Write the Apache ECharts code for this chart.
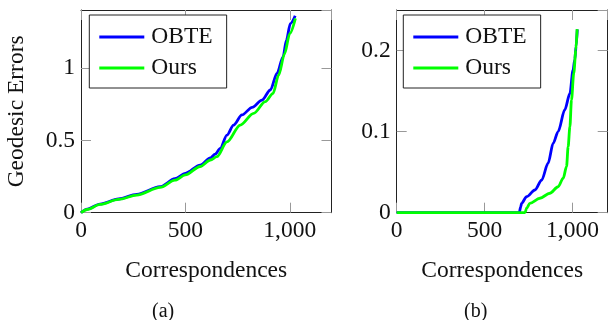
<!DOCTYPE html>
<html>
<head>
<meta charset="utf-8">
<script src="https://cdn.jsdelivr.net/npm/echarts@6/dist/echarts.min.js"></script>
<style>html,body{margin:0;padding:0;background:#fff;}#c{width:608px;height:320px;}</style>
</head>
<body>
<div id="c"></div>
<script>
// ---- data (a) ----
var obteAX = [0, 30, 91, 180, 267, 379, 450, 500, 571, 620, 643, 667, 699, 731, 771, 820, 867, 907, 939, 968, 984, 1003, 1026];
var obteAY = [0, 0.025, 0.06, 0.095, 0.127, 0.18, 0.235, 0.273, 0.33, 0.38, 0.406, 0.446, 0.538, 0.607, 0.677, 0.73, 0.78, 0.85, 0.965, 1.08, 1.196, 1.31, 1.364];
var oursAX = [0, 30, 91, 180, 267, 379, 450, 500, 571, 620, 651, 699, 763, 827, 883, 920, 947, 975, 1000, 1027];
var oursAY = [0, 0.022, 0.057, 0.092, 0.122, 0.175, 0.225, 0.262, 0.32, 0.365, 0.388, 0.49, 0.607, 0.688, 0.769, 0.827, 0.954, 1.10, 1.24, 1.346];
// ---- data (b) ----
var obteBX = [0, 697, 705, 710, 739, 786, 824, 861, 890, 918, 956, 985, 1003, 1013, 1020, 1027];
var obteBY = [0, 0, 0.007, 0.0116, 0.0198, 0.028, 0.040, 0.061, 0.0857, 0.100, 0.127, 0.147, 0.176, 0.189, 0.205, 0.226];
var oursBX = [0, 729, 740, 757, 814, 871, 918, 947, 966, 975, 985, 994, 1007, 1019, 1026];
var oursBY = [0, 0, 0.006, 0.0116, 0.0178, 0.024, 0.032, 0.0425, 0.057, 0.0815, 0.106, 0.139, 0.172, 0.2008, 0.2264];
// ---- axes / labels ----
var seriesNames = ['OBTE', 'Ours'];
var xTitle = 'Correspondences';
var yTitle = 'Geodesic Errors';
var captions = ['(a)', '(b)'];

function zip(xs, ys) { return xs.map(function (x, i) { return [x, ys[i]]; }); }

var FONT = '"Liberation Serif", "Times New Roman", serif';
var FS = 23.5;
var BLUE = '#0000ff', GREEN = '#00ff00';

function fmtX(v) { return v >= 1000 ? (v / 1000) + ',' + ('000' + (v % 1000)).slice(-3) : String(v); }

function xAx(grid, pos, max) {
  var main = pos === 'bottom';
  return {
    type: 'value', gridIndex: grid, position: pos, min: 0, max: max, interval: 500,
    axisLine: { show: true, onZero: false, lineStyle: { color: '#222', width: 1 } },
    axisTick: { show: true, inside: true, length: 10, lineStyle: { color: '#999', width: 1 } },
    axisLabel: { show: main, margin: 6, fontFamily: FONT, fontSize: FS, color: '#111', formatter: fmtX, showMaxLabel: false },
    splitLine: { show: false },
    name: main ? xTitle : '', nameLocation: 'middle', nameGap: 46,
    nameTextStyle: { fontFamily: FONT, fontSize: FS, color: '#111' }
  };
}
function yAx(grid, pos, max, interval, name) {
  var main = pos === 'left';
  return {
    type: 'value', gridIndex: grid, position: pos, min: 0, max: max, interval: interval,
    axisLine: { show: true, onZero: false, lineStyle: { color: '#222', width: 1 } },
    axisTick: { show: true, inside: true, length: 10, lineStyle: { color: '#999', width: 1 } },
    axisLabel: { show: main, margin: 6, fontFamily: FONT, fontSize: FS, color: '#111', showMaxLabel: false },
    splitLine: { show: false },
    name: main && name ? name : '', nameLocation: 'middle', nameGap: 52, nameRotate: 90,
    nameTextStyle: { fontFamily: FONT, fontSize: FS, color: '#111' }
  };
}
function legend(left) {
  return {
    data: seriesNames, orient: 'vertical', left: left, top: 15,
    backgroundColor: '#fff', borderColor: '#222', borderWidth: 1, borderRadius: 0,
    padding: [10, 14, 8, 10], itemGap: 7, itemWidth: 45, itemHeight: 3, icon: 'rect',
    textStyle: { fontFamily: FONT, fontSize: FS, color: '#111', lineHeight: 24, padding: [0, 0, 0, 2] },
    selectedMode: false
  };
}
function line(name, data, xi, yi, color) {
  return {
    type: 'line', name: name, data: data, xAxisIndex: xi, yAxisIndex: yi,
    showSymbol: false, symbol: 'none', smooth: 0.3, smoothMonotone: 'x',
    lineStyle: { color: color, width: 2.8 }, itemStyle: { color: color },
    animation: false, clip: false
  };
}

var chart = echarts.init(document.getElementById('c'), null, { renderer: 'canvas' });
chart.setOption({
  backgroundColor: '#fff',
  animation: false,
  textStyle: { fontFamily: FONT },
  grid: [
    { left: 81, top: 10, width: 250.5, height: 202.7 },
    { left: 396.7, top: 10, width: 211, height: 202.7 }
  ],
  xAxis: [xAx(0, 'bottom', 1200), xAx(1, 'bottom', 1200), xAx(0, 'top', 1200), xAx(1, 'top', 1200)],
  yAxis: [yAx(0, 'left', 1.404, 0.5, yTitle), yAx(1, 'left', 0.25, 0.1, ''), yAx(0, 'right', 1.404, 0.5, ''), yAx(1, 'right', 0.25, 0.1, '')],
  legend: [legend(89.3), legend(403.3)],
  series: [
    line(seriesNames[0], zip(obteAX, obteAY), 0, 0, BLUE),
    line(seriesNames[1], zip(oursAX, oursAY), 0, 0, GREEN),
    line(seriesNames[0], zip(obteBX, obteBY), 1, 1, BLUE),
    line(seriesNames[1], zip(oursBX, oursBY), 1, 1, GREEN)
  ],
  graphic: [
    { type: 'text', left: 163 - 11, top: 302, style: { text: captions[0], fontFamily: FONT, fontSize: 20, fill: '#111' } },
    { type: 'text', left: 475 - 11, top: 302, style: { text: captions[1], fontFamily: FONT, fontSize: 20, fill: '#111' } }
  ]
});
</script>
</body>
</html>
